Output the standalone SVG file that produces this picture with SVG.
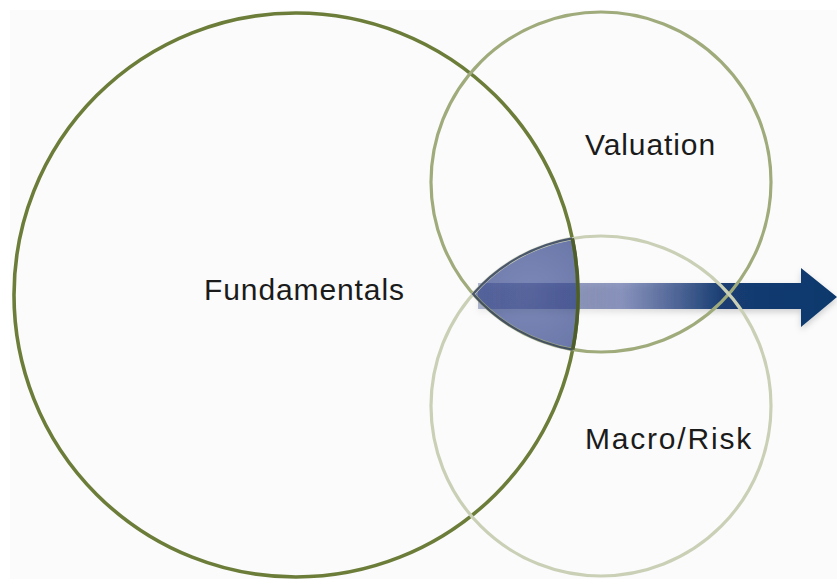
<svg xmlns="http://www.w3.org/2000/svg" width="837" height="579" viewBox="0 0 837 579">
  <style>
    .ring { fill: none; }
    .label { font-family: "Liberation Sans", Arial, Helvetica, sans-serif; font-size: 30px; fill: #1b1b1b; letter-spacing: 0.9px; }
  </style>
  <defs>
    <radialGradient id="coreFill" cx="530" cy="294" r="95" gradientUnits="userSpaceOnUse">
      <stop offset="0" stop-color="#7c89b8"/>
      <stop offset="0.7" stop-color="#6b78a9"/>
      <stop offset="1" stop-color="#56639a"/>
    </radialGradient>
    <linearGradient id="arrowFill" x1="478" y1="0" x2="837" y2="0" gradientUnits="userSpaceOnUse">
      <stop offset="0" stop-color="#2c3c82" stop-opacity="0.35"/>
      <stop offset="0.3" stop-color="#2c3c82" stop-opacity="0.5"/>
      <stop offset="0.4" stop-color="#4a5a9c" stop-opacity="0.6"/>
      <stop offset="0.68" stop-color="#13396f" stop-opacity="0.97"/>
      <stop offset="1" stop-color="#0c386c"/>
    </linearGradient>
    <filter id="soft" x="-10%" y="-40%" width="120%" height="180%">
      <feDropShadow dx="0" dy="3" stdDeviation="3" flood-color="#000" flood-opacity="0.18"/>
    </filter>
    <filter id="blurEdge" x="-10%" y="-10%" width="120%" height="120%">
      <feGaussianBlur stdDeviation="0.8"/>
    </filter>
  </defs>

  <!-- page -->
  <rect x="0" y="0" width="837" height="579" fill="#ffffff"/>
  <rect x="10" y="10" width="827" height="569" fill="#fbfbfb"/>

  <!-- shared core of the three circles -->
  <g id="core">
    <path d="M 473.1 294 A 170 170 0 0 1 572.3 238.4 A 282 282 0 0 1 572.7 349.6 A 170 170 0 0 1 473.1 294 Z" fill="url(#coreFill)" filter="url(#blurEdge)"/>
  </g>

  <!-- outcome arrow -->
  <g id="connectors">
    <path d="M 478 283 L 801 283 L 801 268 L 837 297 L 801 327 L 801 309 L 478 309 Z" fill="url(#arrowFill)" filter="url(#soft)"/>
  </g>

  <!-- circles -->
  <g id="fundamentals">
    <circle class="ring" cx="296" cy="295" r="282" stroke="#6c7d3a" stroke-width="3.6"/>
    <text class="label" x="204" y="300">Fundamentals</text>
  </g>
  <g id="valuation">
    <circle class="ring" cx="601" cy="182" r="170" stroke="#a0ab7c" stroke-width="3.2"/>
    <text class="label" x="585" y="155">Valuation</text>
  </g>
  <g id="macro-risk">
    <circle class="ring" cx="601" cy="406" r="170" stroke="#cad0b6" stroke-width="3.2"/>
    <text class="label" x="585" y="449" style="letter-spacing:1.8px">Macro/Risk</text>
  </g>

  <!-- dark rim on the core's curved edges -->
  <g id="core-rim">
    <path d="M 572.3 238.4 A 170 170 0 0 0 473.1 294 A 170 170 0 0 0 572.7 349.6" fill="none" stroke="#34415e" stroke-width="2.2" stroke-opacity="0.85"/>
    <path d="M 572.3 238.4 A 282 282 0 0 1 572.7 349.6" fill="none" stroke="#4d5e2c" stroke-width="3.6"/>
  </g>
</svg>
